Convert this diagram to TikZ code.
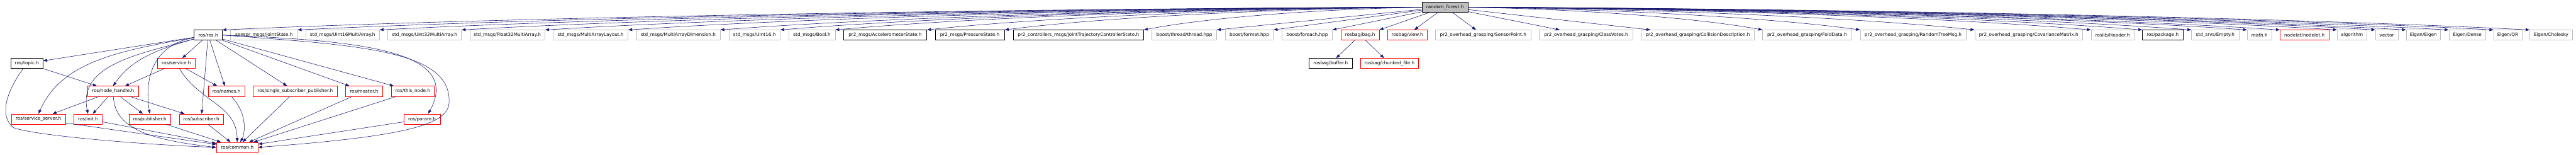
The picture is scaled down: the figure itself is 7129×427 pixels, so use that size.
\documentclass[tikz,border=0pt]{standalone}
\usepackage{fontspec}
\setmainfont{DejaVu Sans}
\usetikzlibrary{arrows.meta}
\definecolor{edgeblue}{HTML}{191970}
\definecolor{boxgray}{HTML}{BFBFBF}

\begin{document}
\begin{tikzpicture}[x=1pt,y=1pt]
\tikzset{
  filenode/.style={rectangle,draw,line width=1pt,minimum height=28pt,inner sep=0pt,font=\fontsize{12.6}{14}\selectfont},
  rootnode/.style={filenode,draw=black,fill=boxgray},
  localnode/.style={filenode,draw=black},
  refnode/.style={filenode,draw=red},
  extnode/.style={filenode,draw=boxgray},
  dep/.style={-{Triangle[length=11pt,width=8pt]},draw=edgeblue,line width=1pt}
}
\useasboundingbox (0,0) rectangle (7129,-427);
% root
\node[rootnode,minimum width=128] (n_root) at (3999,-19.5) {random\_forest.h};
% first row
\node[localnode,minimum width=78] (n_ros) at (576,-97) {ros/ros.h};
\node[extnode,minimum width=185] (n_joint) at (730.5,-97) {sensor\_msgs/JointState.h};
\node[extnode,minimum width=204] (n_u16ma) at (948,-97) {std\_msgs/UInt16MultiArray.h};
\node[extnode,minimum width=204] (n_u32ma) at (1175,-97) {std\_msgs/UInt32MultiArray.h};
\node[extnode,minimum width=208] (n_f32ma) at (1404,-97) {std\_msgs/Float32MultiArray.h};
\node[extnode,minimum width=207] (n_layout) at (1634.5,-97) {std\_msgs/MultiArrayLayout.h};
\node[extnode,minimum width=232] (n_dim) at (1877,-97) {std\_msgs/MultiArrayDimension.h};
\node[extnode,minimum width=142] (n_u16) at (2088,-97) {std\_msgs/UInt16.h};
\node[extnode,minimum width=128] (n_bool) at (2247,-97) {std\_msgs/Bool.h};
\node[localnode,minimum width=231] (n_accel) at (2449.5,-97) {pr2\_msgs/AccelerometerState.h};
\node[localnode,minimum width=192] (n_press) at (2684,-97) {pr2\_msgs/PressureState.h};
\node[localnode,minimum width=361] (n_jtcs) at (2984.5,-97) {pr2\_controllers\_msgs/JointTrajectoryControllerState.h};
\node[extnode,minimum width=179] (n_thread) at (3277.5,-97) {boost/thread/thread.hpp};
\node[extnode,minimum width=133] (n_format) at (3457.5,-97) {boost/format.hpp};
\node[extnode,minimum width=139] (n_foreach) at (3617.5,-97) {boost/foreach.hpp};
\node[refnode,minimum width=106] (n_bag) at (3764,-97) {rosbag/bag.h};
\node[refnode,minimum width=109] (n_view) at (3894.5,-97) {rosbag/view.h};
\node[extnode,minimum width=265] (n_sensor) at (4104.5,-97) {pr2\_overhead\_grasping/SensorPoint.h};
\node[extnode,minimum width=259] (n_votes) at (4389.5,-97) {pr2\_overhead\_grasping/ClassVotes.h};
\node[extnode,minimum width=313] (n_collision) at (4698.5,-97) {pr2\_overhead\_grasping/CollisionDescription.h};
\node[extnode,minimum width=246] (n_fold) at (5001,-97) {pr2\_overhead\_grasping/FoldData.h};
\node[extnode,minimum width=293] (n_tree) at (5294.5,-97) {pr2\_overhead\_grasping/RandomTreeMsg.h};
\node[extnode,minimum width=299] (n_covar) at (5614.5,-97) {pr2\_overhead\_grasping/CovarianceMatrix.h};
\node[extnode,minimum width=119] (n_header) at (5846.5,-97) {roslib/Header.h};
\node[localnode,minimum width=112] (n_package) at (5985,-97) {ros/package.h};
\node[extnode,minimum width=131] (n_empty) at (6130.5,-97) {std\_srvs/Empty.h};
\node[extnode,minimum width=68] (n_math) at (6253,-97) {math.h};
\node[refnode,minimum width=135] (n_nodelet) at (6377.5,-97) {nodelet/nodelet.h};
\node[extnode,minimum width=82] (n_algorithm) at (6509,-97) {algorithm};
\node[extnode,minimum width=62] (n_vector) at (6605,-97) {vector};
\node[extnode,minimum width=95] (n_eigen) at (6706.5,-97) {Eigen/Eigen};
\node[extnode,minimum width=102] (n_dense) at (6828,-97) {Eigen/Dense};
\node[extnode,minimum width=78] (n_qr) at (6940,-97) {Eigen/QR};
\node[extnode,minimum width=118] (n_cholesky) at (7060,-97) {Eigen/Cholesky};
% second row
\node[localnode,minimum width=89] (n_topic) at (74.5,-175) {ros/topic.h};
\node[refnode,minimum width=104] (n_service) at (488,-175) {ros/service.h};
\node[localnode,minimum width=119] (n_buffer) at (3682.5,-175) {rosbag/buffer.h};
\node[refnode,minimum width=161] (n_chunked) at (3845.5,-175) {rosbag/chunked\_file.h};
% third row
\node[refnode,minimum width=140] (n_handle) at (313,-252) {ros/node\_handle.h};
\node[refnode,minimum width=102] (n_names) at (627,-252) {ros/names.h};
\node[refnode,minimum width=232] (n_single) at (817,-252) {ros/single\_subscriber\_publisher.h};
\node[refnode,minimum width=103] (n_master) at (1007.5,-252) {ros/master.h};
\node[refnode,minimum width=119] (n_thisnode) at (1142.5,-252) {ros/this\_node.h};
% fourth row
\node[refnode,minimum width=149] (n_server) at (106.5,-329) {ros/service\_server.h};
\node[refnode,minimum width=77] (n_init) at (243.5,-329) {ros/init.h};
\node[refnode,minimum width=115] (n_publisher) at (414.5,-329) {ros/publisher.h};
\node[refnode,minimum width=122] (n_subscriber) at (557,-329) {ros/subscriber.h};
\node[refnode,minimum width=100] (n_param) at (1168,-329) {ros/param.h};
% fifth row
\node[refnode,minimum width=115] (n_common) at (656.5,-407) {ros/common.h};
% includes of random_forest.h
\draw[dep] (n_root) .. controls (2806,-24) and (1412,-47) .. (n_ros.north east);
\draw[dep] (n_root) .. controls (2877,-24) and (1570,-47) .. (n_joint.north east);
\draw[dep] (n_root) .. controls (2954,-24) and (1742,-47) .. (n_u16ma.north east);
\draw[dep] (n_root) .. controls (3031,-24) and (1915,-47) .. (n_u32ma.north east);
\draw[dep] (n_root) .. controls (3110,-24) and (2090,-47) .. (n_f32ma.north east);
\draw[dep] (n_root) .. controls (3188,-24) and (2265,-47) .. (n_layout.north east);
\draw[dep] (n_root) .. controls (3275,-24) and (2459,-47) .. (n_dim.north east);
\draw[dep] (n_root) .. controls (3331,-24) and (2585,-47) .. (n_u16.north east);
\draw[dep] (n_root) .. controls (3383,-24) and (2701,-47) .. (n_bool.north east);
\draw[dep] (n_root) .. controls (3469,-24) and (2894,-47) .. (n_accel.north east);
\draw[dep] (n_root) .. controls (3542,-24) and (3057,-47) .. (n_press.north east);
\draw[dep] (n_root) .. controls (3673,-24) and (3350,-47) .. (n_jtcs.north east);
\draw[dep] (n_root) -- (n_thread.north east);
\draw[dep] (n_root) -- (n_format.north east);
\draw[dep] (n_root) -- (n_foreach.north east);
\draw[dep] (n_root) -- (n_bag.north east);
\draw[dep] (n_root) -- (n_view);
\draw[dep] (n_root) -- (n_sensor);
\draw[dep] (n_root) -- (n_votes);
\draw[dep] (n_root) -- (n_collision);
\draw[dep] (n_root) .. controls (4340,-24) and (4682,-47) .. (n_fold.north west);
\draw[dep] (n_root) .. controls (4432,-24) and (4888,-47) .. (n_tree.north west);
\draw[dep] (n_root) .. controls (4540,-24) and (5129,-47) .. (n_covar.north west);
\draw[dep] (n_root) .. controls (4649,-24) and (5373,-47) .. (n_header.north west);
\draw[dep] (n_root) .. controls (4697,-24) and (5481,-47) .. (n_package.north west);
\draw[dep] (n_root) .. controls (4744,-24) and (5585,-47) .. (n_empty.north west);
\draw[dep] (n_root) .. controls (4796,-24) and (5702,-47) .. (n_math.north west);
\draw[dep] (n_root) .. controls (4827,-24) and (5771,-47) .. (n_nodelet.north west);
\draw[dep] (n_root) .. controls (4881,-24) and (5891,-47) .. (n_algorithm.north west);
\draw[dep] (n_root) .. controls (4917,-24) and (5971,-47) .. (n_vector.north west);
\draw[dep] (n_root) .. controls (4946,-24) and (6036,-47) .. (n_eigen.north west);
\draw[dep] (n_root) .. controls (4986,-24) and (6126,-47) .. (n_dense.north west);
\draw[dep] (n_root) .. controls (5028,-24) and (6220,-47) .. (n_qr.north west);
\draw[dep] (n_root) .. controls (5062,-24) and (6296,-47) .. (n_cholesky.north west);
% rosbag
\draw[dep] (n_bag) -- (n_buffer);
\draw[dep] (n_bag) -- (n_chunked);
% ros/ros.h
\draw[dep] (n_ros) -- (n_topic);
\draw[dep] (n_ros) .. controls (330,-140) and (170,-170) .. (n_server.north);
\draw[dep] (n_ros) .. controls (380,-150) and (215,-180) .. (n_init.north);
\draw[dep] (n_ros) .. controls (420,-140) and (360,-170) .. (n_handle.north);
\draw[dep] (n_ros) .. controls (420,-125) and (400,-220) .. (n_publisher.north);
\draw[dep] (n_ros) -- (n_service);
\draw[dep] (n_ros) -- (n_subscriber);
\draw[dep] (n_ros) -- (n_names);
\draw[dep] (n_ros) -- (n_single);
\draw[dep] (n_ros) -- (n_master);
\draw[dep] (n_ros) -- (n_thisnode);
\draw[dep] (n_ros.east) .. controls (1000,-112) and (1280,-140) .. ([xshift=17pt]n_param.north);
\draw[dep] (n_ros.east) .. controls (1000,-125) and (1245,-140) .. (1243,-280)
  .. controls (1243,-340) and (1150,-375) .. (n_common.east);
% ros/topic.h, ros/service.h
\draw[dep] (n_topic) -- (n_handle);
\draw[dep] (n_topic) .. controls (20,-250) and (-5,-320) .. (38,-353)
  .. controls (100,-375) and (400,-400) .. (n_common.west);
\draw[dep] (n_service) -- (n_handle);
\draw[dep] (n_service) -- (n_names);
\draw[dep] (n_service) .. controls (550,-280) and (655,-290) .. (n_common.north);
% ros/node_handle.h
\draw[dep] (n_handle) -- (n_server);
\draw[dep] (n_handle) -- (n_init);
\draw[dep] (n_handle) -- (n_publisher);
\draw[dep] (n_handle) -- (n_subscriber);
\draw[dep] (n_handle) .. controls (318,-350) and (400,-385) .. (n_common.west);
% down to ros/common.h
\draw[dep] (n_server) -- (n_common);
\draw[dep] (n_init) -- (n_common);
\draw[dep] (n_publisher) -- (n_common);
\draw[dep] (n_subscriber) -- (n_common);
\draw[dep] (n_names) .. controls (690,-320) and (675,-375) .. (n_common);
\draw[dep] (n_single) -- (n_common);
\draw[dep] (n_master) -- (n_common);
\draw[dep] (n_thisnode) -- (n_common);
\draw[dep] (n_param) -- (n_common);
\end{tikzpicture}
\end{document}
